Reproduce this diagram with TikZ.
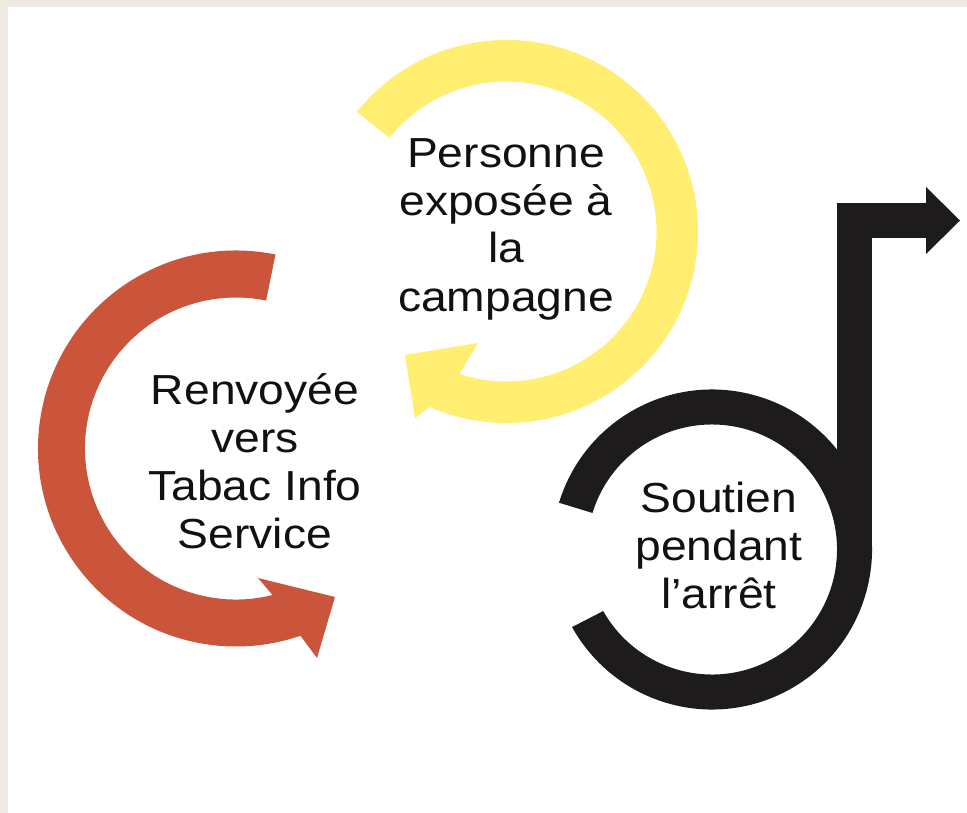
\documentclass[tikz,border=0pt]{standalone}
\usepackage{fontspec}
\setmainfont{Liberation Sans}
\newfontfamily\labfont[FakeStretch=1.1]{Liberation Sans}
\definecolor{bgbeige}{HTML}{EEEAE2}
\definecolor{ringyellow}{HTML}{FFEE70}
\definecolor{ringred}{HTML}{CA553B}
\definecolor{ringblack}{HTML}{1D1B1C}
\definecolor{textblack}{HTML}{111111}
\tikzset{
  lab/.style={align=center, inner sep=0pt, anchor=center, text=textblack,
    font=\labfont\fontsize{42}{48}\selectfont}
}
\begin{document}
\begin{tikzpicture}[x=1pt,y=1pt]
\useasboundingbox (0,0) rectangle (967,-813);
\fill[bgbeige] (0,0) rectangle (967,-813);
\fill[white] (8,-7) rectangle (967,-813);

\coordinate (yc) at (506.5,-231.5);
\coordinate (rc) at (236,-448.5);
\coordinate (bc) at (712,-549.5);

% yellow circular arrow
\fill[ringyellow] ([shift={(141.3:191.5)}]yc)
  arc[start angle=141.3, end angle=-113.6, radius=191.5]
  -- (415,-418) -- (405,-355) -- (478,-343)
  -- ([shift={(-108.3:150)}]yc)
  arc[start angle=-108.3, end angle=141.3, radius=150] -- cycle;

% red circular arrow
\fill[ringred] ([shift={(78.5:198)}]rc)
  arc[start angle=78.5, end angle=289, radius=198]
  -- (317,-658) -- (335,-597) -- (258,-578)
  -- ([shift={(284:151)}]rc)
  arc[start angle=284, end angle=78.5, radius=151] -- cycle;

% black ring with exit arrow
\fill[ringblack] ([shift={(163:160)}]bc)
  arc[start angle=163, end angle=-151, radius=160]
  -- ([shift={(-150.5:125)}]bc)
  arc[start angle=-150.5, end angle=163, radius=125] -- cycle;
\fill[ringblack] (837,-549.5) rectangle (872,-203);
\fill[ringblack] (837,-203) rectangle (927,-238);
\fill[ringblack] (926,-187) -- (960,-220.5) -- (926,-254) -- cycle;

\node[lab] (yellowtext) at (506,-229.4)
  {\strut Personne\\\strut exposée à\\\strut la\\\strut campagne};
\node[lab] (redtext) at (255,-466.9)
  {\strut Renvoyée\\\strut vers\\\strut Tabac Info\\\strut Service};
\node[lab] (blacktext) at (719,-551)
  {\strut Soutien\\\strut pendant\\\strut l’arrêt};
\end{tikzpicture}
\end{document}
